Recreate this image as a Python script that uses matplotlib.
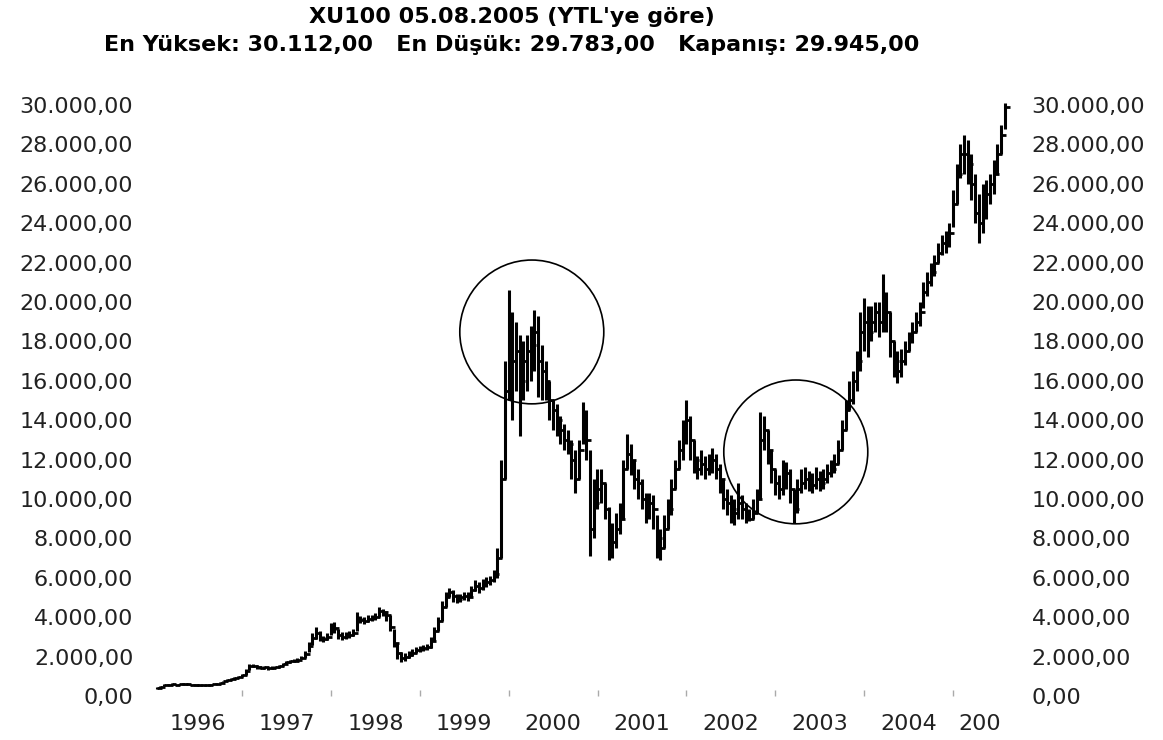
import numpy as np
import matplotlib.pyplot as plt
from matplotlib.patches import Ellipse
from matplotlib.ticker import FixedLocator, FuncFormatter

# XU100 semi-monthly bars (thousands of YTL), 1996 .. Aug 2005
close_k = [
    0.40, 0.48, 0.55, 0.58, 0.60, 0.58, 0.60, 0.62, 0.60, 0.58, 0.57, 0.56, 0.55, 0.54, 0.56, 0.60, 0.63, 0.68, 0.74, 0.80, 0.86, 0.92, 0.97,
    1.05, 1.25, 1.50, 1.52, 1.45, 1.42, 1.45, 1.40, 1.42, 1.45, 1.50, 1.60, 1.70, 1.75, 1.80, 1.85, 1.95, 2.15, 2.55, 2.95, 3.20, 2.95, 2.90, 3.00,
    3.40, 3.45, 3.10, 3.00, 3.05, 3.10, 3.20, 3.90, 3.85, 3.80, 3.90, 3.95, 4.00, 4.30, 4.25, 4.10, 3.50, 2.70, 2.20, 1.95, 2.00, 2.10, 2.20, 2.35,
    2.40, 2.45, 2.50, 2.80, 3.30, 3.80, 4.50, 5.00, 5.30, 5.10, 4.90, 5.00, 5.10, 5.00, 5.40, 5.60, 5.50, 5.70, 5.80, 5.90, 6.20, 7.00, 11.0, 15.5,
    18.5, 17.0, 17.5, 16.0, 17.0, 17.5, 17.8, 18.5, 17.0, 16.5, 16.0, 15.0, 14.5, 14.0, 13.5, 13.0, 12.8, 12.0, 11.0, 12.5, 13.5, 13.0, 8.5, 9.8,
    10.5, 10.8, 9.5, 8.0, 7.8, 8.5, 9.0, 11.5, 12.3, 12.0, 11.0, 10.8, 10.0, 9.5, 9.8, 9.5, 8.0, 7.5, 8.5, 9.5, 10.5, 11.5, 12.5, 13.0,
    14.0, 13.0, 12.0, 11.5, 11.8, 11.5, 11.8, 12.0, 11.5, 11.0, 10.0, 9.8, 9.5, 9.3, 9.8, 9.5, 9.2, 9.0, 9.3, 10.0, 13.0, 13.5, 12.5, 11.5,
    10.8, 10.5, 11.0, 11.3, 10.5, 9.5, 10.5, 10.8, 11.0, 10.8, 10.7, 11.0, 10.8, 11.0, 11.3, 11.5, 11.8, 12.5, 13.5, 14.5, 15.0, 16.0, 17.0, 18.5,
    19.0, 18.5, 19.0, 19.5, 19.0, 20.0, 19.5, 18.0, 17.0, 16.5, 17.0, 17.5, 18.0, 18.5, 19.0, 19.5, 20.5, 21.0, 21.5, 22.0, 22.5, 23.0, 23.0, 23.5,
    25.0, 26.5, 27.5, 27.5, 27.0, 26.0, 24.5, 24.0, 25.0, 25.5, 26.0, 26.5, 27.5, 28.5, 29.9,
]
high_k = [
    0.45, 0.52, 0.60, 0.62, 0.64, 0.62, 0.63, 0.65, 0.63, 0.61, 0.60, 0.59, 0.58, 0.57, 0.59, 0.63, 0.67, 0.72, 0.78, 0.84, 0.90, 0.96, 1.02,
    1.10, 1.35, 1.60, 1.62, 1.55, 1.50, 1.52, 1.48, 1.50, 1.52, 1.58, 1.68, 1.78, 1.82, 1.88, 1.93, 2.05, 2.30, 2.75, 3.20, 3.50, 3.30, 3.05, 3.20,
    3.70, 3.75, 3.40, 3.25, 3.25, 3.30, 3.40, 4.26, 4.05, 4.00, 4.10, 4.10, 4.20, 4.50, 4.40, 4.30, 4.10, 3.40, 2.70, 2.25, 2.20, 2.30, 2.40, 2.50,
    2.55, 2.60, 2.65, 3.00, 3.50, 4.00, 4.80, 5.30, 5.50, 5.40, 5.20, 5.20, 5.30, 5.30, 5.60, 5.90, 5.80, 5.95, 6.05, 6.10, 6.40, 7.50, 12.0, 17.0,
    20.6, 19.5, 19.0, 18.3, 18.0, 18.3, 18.8, 19.6, 19.3, 17.8, 17.0, 16.0, 15.0, 14.8, 14.2, 13.8, 13.5, 13.0, 12.5, 13.0, 14.9, 14.5, 12.5, 11.0,
    11.5, 11.5, 10.8, 9.6, 8.8, 9.3, 9.8, 12.0, 13.3, 12.8, 12.0, 11.5, 11.0, 10.3, 10.3, 10.2, 9.2, 8.5, 9.2, 10.0, 11.0, 12.0, 13.0, 14.0,
    15.0, 14.2, 13.0, 12.2, 12.5, 12.2, 12.3, 12.6, 12.3, 11.8, 11.0, 10.5, 10.2, 10.0, 10.8, 10.2, 9.8, 9.5, 10.0, 10.5, 14.4, 14.2, 13.5, 12.5,
    11.5, 11.2, 12.0, 11.9, 11.5, 10.5, 11.0, 11.5, 11.6, 11.4, 11.3, 11.6, 11.4, 11.5, 11.8, 12.0, 12.3, 13.0, 14.0, 15.0, 16.0, 16.5, 17.5, 19.5,
    20.2, 19.8, 19.8, 20.0, 20.0, 21.4, 20.5, 19.5, 18.0, 17.5, 17.6, 18.0, 18.5, 19.0, 19.5, 20.0, 21.0, 21.5, 22.0, 22.4, 23.0, 23.4, 23.6, 24.0,
    25.7, 27.0, 28.0, 28.5, 28.2, 27.5, 26.5, 25.5, 26.0, 26.2, 26.5, 27.2, 28.0, 29.0, 30.1,
]
low_k = [
    0.36, 0.42, 0.50, 0.55, 0.56, 0.55, 0.57, 0.58, 0.57, 0.55, 0.54, 0.53, 0.52, 0.51, 0.53, 0.56, 0.60, 0.64, 0.70, 0.75, 0.81, 0.87, 0.92,
    0.98, 1.05, 1.30, 1.45, 1.38, 1.36, 1.38, 1.34, 1.36, 1.40, 1.44, 1.50, 1.62, 1.68, 1.72, 1.78, 1.86, 1.95, 2.25, 2.60, 2.90, 2.80, 2.75, 2.85,
    3.10, 3.20, 2.90, 2.85, 2.90, 2.95, 3.05, 3.30, 3.70, 3.65, 3.75, 3.80, 3.85, 4.00, 4.05, 3.80, 3.30, 2.50, 1.90, 1.70, 1.80, 1.95, 2.05, 2.20,
    2.25, 2.30, 2.35, 2.45, 2.80, 3.30, 3.80, 4.50, 5.00, 4.75, 4.70, 4.75, 4.85, 4.80, 5.00, 5.35, 5.25, 5.40, 5.55, 5.65, 5.80, 6.00, 7.00, 11.0,
    15.0, 14.0, 15.5, 13.2, 15.0, 15.5, 16.0, 16.5, 15.2, 15.0, 15.0, 14.0, 13.5, 13.2, 12.8, 12.5, 12.3, 11.0, 10.3, 11.0, 12.8, 12.0, 7.1, 8.0,
    9.5, 9.8, 9.0, 6.9, 7.0, 7.5, 8.2, 9.0, 11.5, 11.2, 10.5, 10.0, 9.5, 8.8, 9.0, 8.5, 7.0, 6.9, 7.5, 8.5, 9.2, 10.5, 11.5, 12.0,
    12.8, 12.0, 11.3, 11.0, 11.2, 11.0, 11.2, 11.3, 11.0, 10.3, 9.5, 9.2, 8.8, 8.7, 9.0, 9.0, 8.8, 8.9, 9.0, 9.3, 10.0, 12.5, 11.8, 10.8,
    10.2, 10.0, 10.2, 10.5, 9.8, 8.8, 9.3, 10.3, 10.5, 10.4, 10.3, 10.5, 10.4, 10.5, 10.8, 11.1, 11.3, 11.8, 12.5, 13.5, 14.5, 14.8, 15.5, 16.5,
    17.5, 17.2, 18.0, 18.5, 18.2, 18.5, 18.5, 17.2, 16.2, 15.9, 16.2, 16.8, 17.5, 17.9, 18.5, 18.8, 19.7, 20.3, 20.8, 21.3, 22.0, 22.4, 22.5, 22.8,
    23.8, 25.0, 26.3, 26.5, 26.0, 25.2, 24.0, 23.0, 23.5, 24.2, 25.0, 25.5, 26.5, 27.5, 28.8,
]

years = [1996, 1997, 1998, 1999, 2000, 2001, 2002, 2003, 2004, 2005]
year_labels = ['1996', '1997', '1998', '1999', '2000', '2001', '2002', '2003', '2004', '200']
y_ticks = list(range(0, 30001, 2000))

# circled areas (center year, center value)
circle_centers = [(2000.26, 18480), (2003.23, 12390)]

title1 = "XU100 05.08.2005 (YTL'ye göre)"
title2 = "En Yüksek: 30.112,00   En Düşük: 29.783,00   Kapanış: 29.945,00"

close = np.array(close_k) * 1000
high = np.array(high_k) * 1000
low = np.array(low_k) * 1000
t = 1996.04 + np.arange(len(close)) / 24.0


def tr_fmt(v, pos):
    s = f"{v:,.2f}"
    return s.replace(',', 'X').replace('.', ',').replace('X', '.')


fig = plt.figure(figsize=(11.63, 7.40), dpi=100)
ax = fig.add_axes([0.129, 0.0595, 0.7438, 0.8119])

ax.vlines(t, low, high, color='black', linewidth=2.2)
ax.hlines(close, t, t + 0.055, color='black', linewidth=2.0)

for cx, cy in circle_centers:
    ax.add_patch(Ellipse((cx, cy), 1.62, 7300, fill=False, edgecolor='black', linewidth=1.2))

ax.set_xlim(1995.965, 2005.697)
ax.set_ylim(0, 30500)

for s in ax.spines.values():
    s.set_visible(False)

ax.xaxis.set_major_locator(FixedLocator(years[1:]))
ax.xaxis.set_major_formatter(FuncFormatter(lambda v, p: ''))
label_pos = [y + 0.5 for y in years[:-1]] + [2005.3]
ax.xaxis.set_minor_locator(FixedLocator(label_pos))
ax.xaxis.set_minor_formatter(FuncFormatter(lambda v, p: year_labels[p]))
ax.tick_params(axis='x', which='major', direction='in', length=4, width=1, color='#aaaaaa')
ax.tick_params(axis='x', which='minor', length=0, pad=13, labelsize=16, labelcolor='#222222')

ax.set_yticks(y_ticks)
ax.yaxis.set_major_formatter(FuncFormatter(tr_fmt))
ax.tick_params(axis='y', length=0, labelsize=16, left=True, right=True,
               labelleft=True, labelright=True, pad=12, labelcolor='#222222')

fig.text(0.44, 0.977, title1, ha='center', va='center', fontsize=16, fontweight='bold')
fig.text(0.44, 0.939, title2, ha='center', va='center', fontsize=16, fontweight='bold')

plt.savefig('out.png', dpi=100)
